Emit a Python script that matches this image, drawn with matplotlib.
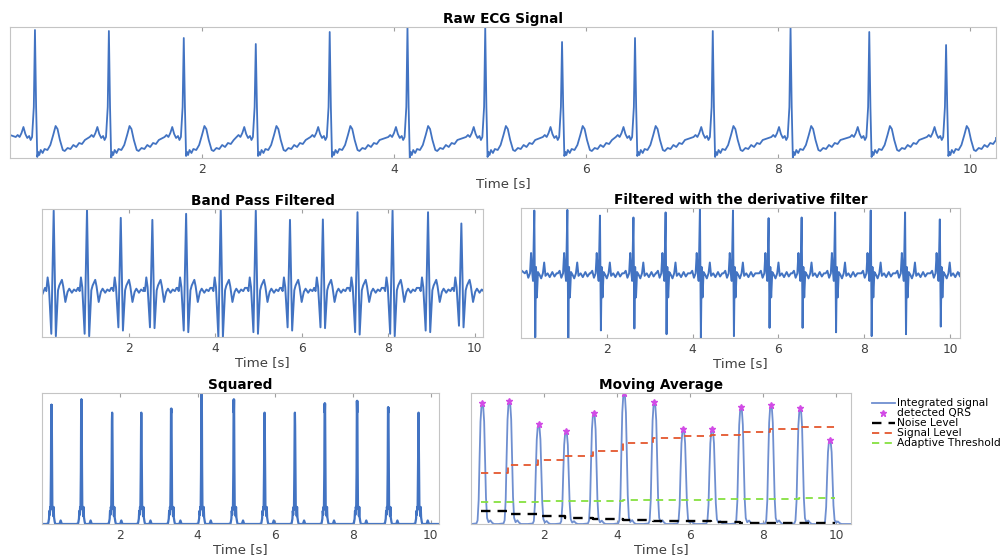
import numpy as np
import matplotlib
matplotlib.use("Agg")
import matplotlib.pyplot as plt

# beat times [s] and amplitudes for each stage of the QRS detector
raw_beats = [0.26, 1.03, 1.81, 2.56, 3.33, 4.14, 4.95, 5.75, 6.51, 7.32, 8.13, 8.95, 9.75]
raw_r = [1.07, 1.06, 0.99, 0.93, 1.05, 1.10, 1.09, 0.95, 0.99, 1.06, 1.09, 1.05, 0.92]
raw_s = [-0.20, -0.21, -0.19, -0.19, -0.20, -0.21, -0.20, -0.19, -0.19, -0.20, -0.21, -0.20, -0.19]

bp_beats = [0.27, 1.04, 1.82, 2.55, 3.33, 4.13, 4.94, 5.73, 6.49, 7.29, 8.10, 8.92, 9.69]
bp_peak = [0.99, 1.00, 0.90, 0.875, 0.95, 1.01, 0.99, 0.875, 0.88, 0.97, 0.99, 0.97, 0.83]
bp_q = [-0.54, -0.54, -0.46, -0.46, -0.50, -0.58, -0.52, -0.46, -0.46, -0.52, -0.54, -0.50, -0.44]
bp_s = [-0.57, -0.57, -0.50, -0.47, -0.52, -0.58, -0.54, -0.50, -0.47, -0.55, -0.57, -0.52, -0.46]

der_beats = [0.31, 1.08, 1.84, 2.62, 3.37, 4.17, 4.94, 5.77, 6.54, 7.32, 8.15, 8.95, 9.76]
der_pos = [0.99, 1.00, 0.91, 0.88, 0.96, 1.03, 0.99, 0.87, 0.88, 0.96, 0.99, 0.96, 0.85]
der_neg = [-1.01, -1.02, -0.90, -0.87, -0.96, -1.02, -0.99, -0.86, -0.86, -0.93, -0.99, -0.96, -0.84]

sq_beats = [0.25, 1.02, 1.81, 2.56, 3.33, 4.11, 4.94, 5.73, 6.51, 7.28, 8.11, 8.91, 9.69]
sq_peak = [0.91, 0.95, 0.785, 0.74, 0.88, 1.00, 0.95, 0.74, 0.75, 0.92, 0.94, 0.89, 0.65]

ma_beats = [0.31, 1.05, 1.85, 2.60, 3.36, 4.19, 5.02, 5.81, 6.60, 7.39, 8.21, 9.01, 9.82]
ma_peak = [0.92, 0.94, 0.76, 0.71, 0.85, 1.00, 0.93, 0.725, 0.725, 0.89, 0.91, 0.885, 0.645]

# detector levels, updated at each detection
level_t = [0.28, 1.02, 1.82, 2.57, 3.33, 4.16, 4.99, 5.78, 6.57, 7.36, 8.18, 8.98, 9.79, 9.97]
signal_lev = [0.39, 0.45, 0.49, 0.52, 0.56, 0.62, 0.656, 0.669, 0.682, 0.702, 0.725, 0.74, 0.737, 0.737]
noise_lev = [0.099, 0.073, 0.061, 0.048, 0.035, 0.027, 0.025, 0.02, 0.014, 0.011, 0.009, 0.007, 0.006, 0.006]
threshold = [0.168, 0.170, 0.173, 0.175, 0.177, 0.180, 0.184, 0.186, 0.189, 0.191, 0.193, 0.196, 0.198, 0.198]

# waveform shape of one beat: (offset from the beat [s], value or name of per-beat value)
raw_shape = [(-0.20, 0.00), (-0.18, 0.02), (-0.16, 0.00), (-0.14, 0.04), (-0.12, 0.10), (-0.10, 0.03),
             (-0.08, -0.01), (-0.06, 0.01), (-0.045, -0.03), (-0.03, 0.00), (-0.012, 0.30), (0.0, "r"),
             (0.012, 0.30), (0.024, "s"), (0.035, -0.15), (0.045, -0.18), (0.06, -0.13), (0.08, -0.16),
             (0.10, -0.12), (0.13, -0.13), (0.16, -0.08), (0.19, 0.02), (0.215, 0.11), (0.235, 0.08),
             (0.26, -0.03), (0.29, -0.13), (0.31, -0.14), (0.34, -0.11), (0.37, -0.12), (0.40, -0.08),
             (0.43, -0.10), (0.46, -0.06), (0.49, -0.07), (0.52, -0.03)]

bp_shape = [(-0.20, 0.03), (-0.17, -0.01), (-0.14, 0.16), (-0.11, 0.04), (-0.055, "q"), (0.0, "peak"),
            (0.05, "s"), (0.10, 0.00), (0.13, 0.06), (0.19, 0.13), (0.22, 0.05), (0.27, -0.145),
            (0.32, -0.02), (0.36, 0.02), (0.42, -0.03), (0.47, 0.01), (0.52, -0.01), (0.56, 0.03)]

der_shape = [(-0.22, 0.00), (-0.18, 0.04), (-0.14, -0.07), (-0.10, 0.00), (-0.075, 0.32), (-0.055, 0.06),
             (-0.03, -0.12), (0.0, "pos"), (0.022, "neg"), (0.04, 0.10), (0.06, -0.38), (0.085, 0.02),
             (0.12, -0.02), (0.16, -0.08), (0.20, 0.00), (0.23, 0.17), (0.26, -0.04), (0.31, 0.00),
             (0.36, -0.06), (0.42, 0.02), (0.47, -0.05), (0.52, 0.00)]

sq_shape = [(-0.14, 0.0), (-0.09, 0.005), (-0.07, 0.04), (-0.06, 0.10), (-0.05, 0.07), (-0.04, 0.13),
            (-0.03, 0.11), (-0.02, 0.40), (-0.012, "peak"), (-0.006, 0.85), (0.0, "peak"),
            (0.008, 0.45), (0.016, 0.14), (0.028, 0.12), (0.04, 0.06), (0.05, 0.13), (0.06, 0.05),
            (0.075, 0.02), (0.09, 0.0), (0.20, 0.0), (0.23, 0.027), (0.26, 0.0), (0.40, 0.0)]

# integrated beat, relative to its peak height
ma_shape = [(-0.30, 0.0), (-0.16, 0.005), (-0.13, 0.03), (-0.10, 0.20), (-0.075, 0.55), (-0.05, 0.85),
            (-0.025, 0.97), (0.0, 1.0), (0.025, 0.97), (0.05, 0.85), (0.075, 0.55), (0.10, 0.22),
            (0.13, 0.05), (0.17, 0.015), (0.22, 0.03), (0.27, 0.01), (0.32, 0.0)]


def build(beats, shape, values, start, end, scale=None):
    t, y = [start[0]], [start[1]]
    for i, b in enumerate(beats):
        for off, v in shape:
            t.append(b + off)
            val = values[v][i] if isinstance(v, str) else v
            if scale is not None:
                val = val * scale[i]
            y.append(val)
    t.append(end[0])
    y.append(end[1])
    return np.array(t), np.array(y)


t_raw, y_raw = build(raw_beats, raw_shape, {"r": raw_r, "s": raw_s}, (0.0, 0.02), (10.27, -0.01))
t_bp, y_bp = build(bp_beats, bp_shape, {"peak": bp_peak, "q": bp_q, "s": bp_s}, (0.0, -0.06), (10.19, 0.0))
t_der, y_der = build(der_beats, der_shape, {"pos": der_pos, "neg": der_neg}, (0.0, 0.05), (10.23, 0.0))
t_sq, y_sq = build(sq_beats, sq_shape, {"peak": sq_peak}, (0.0, 0.0), (10.21, 0.0))
t_ma, y_ma = build(ma_beats, ma_shape, {}, (0.0, 0.0), (10.40, 0.0), scale=ma_peak)

blue = "#4273c2"
W, H = 1006, 557
fig = plt.figure(figsize=(W / 100, H / 100), dpi=100)


def panel(px, title):
    l, t, r, b = px
    ax = fig.add_axes([l / W, 1 - b / H, (r - l) / W, (b - t) / H])
    for s in ax.spines.values():
        s.set_color("#c4c4c4")
        s.set_linewidth(0.8)
    ax.tick_params(axis="x", direction="in", top=True, length=3, color="#a0a0a0",
                   labelsize=8.8, labelcolor="#404040", pad=3.5)
    ax.set_yticks([])
    ax.set_xticks([2, 4, 6, 8, 10])
    ax.set_xlabel("Time [s]", fontsize=9.6, color="#404040", labelpad=0.5)
    ax.set_title(title, fontsize=9.8, fontweight="bold", pad=3)
    return ax


ax1 = panel((10, 27, 996, 158), "Raw ECG Signal")
ax1.plot(t_raw, y_raw, color=blue, lw=1.3)
ax1.set_xlim(0, 10.27)
ax1.set_ylim(y_raw.min(), y_raw.max())

ax2 = panel((42, 209, 483, 337), "Band Pass Filtered")
ax2.plot(t_bp, y_bp, color=blue, lw=1.4)
ax2.set_xlim(0, 10.19)
ax2.set_ylim(y_bp.min(), y_bp.max())

ax3 = panel((521, 208, 960, 338), "Filtered with the derivative filter")
ax3.plot(t_der, y_der, color=blue, lw=1.4)
ax3.set_xlim(0, 10.23)
ax3.set_ylim(y_der.min(), y_der.max())

ax4 = panel((42, 393, 439, 524), "Squared")
ax4.plot(t_sq, y_sq, color=blue, lw=1.6)
ax4.set_xlim(0, 10.21)
ax4.set_ylim(0, max(y_sq))

ax5 = panel((471, 393, 851, 524), "Moving Average")
ax5.plot(t_ma, y_ma, color="#6f8fd0", lw=1.3, label="Integrated signal")
ax5.plot(ma_beats, ma_peak, ls="none", marker="*", ms=5, color="#d24be6", label="detected QRS")
ax5.plot(level_t, noise_lev, color="black", ls="--", dashes=(4, 3), lw=1.7,
         drawstyle="steps-post", label="Noise Level")
ax5.plot(level_t, signal_lev, color="#e4572e", ls="--", dashes=(4, 3), lw=1.3,
         drawstyle="steps-post", label="Signal Level")
ax5.plot(level_t, threshold, color="#86e040", ls="--", dashes=(4, 3), lw=1.3,
         drawstyle="steps-post", label="Adaptive Threshold")
ax5.set_xlim(0, 10.40)
ax5.set_ylim(0, 1.0)
ax5.legend(loc="upper left", bbox_to_anchor=(1.04, 1.0), frameon=False, fontsize=7.7,
           labelspacing=0.0, handlelength=2.2, handletextpad=0.2, borderaxespad=0.3,
           borderpad=0.2)

fig.savefig("out.png", dpi=100)
